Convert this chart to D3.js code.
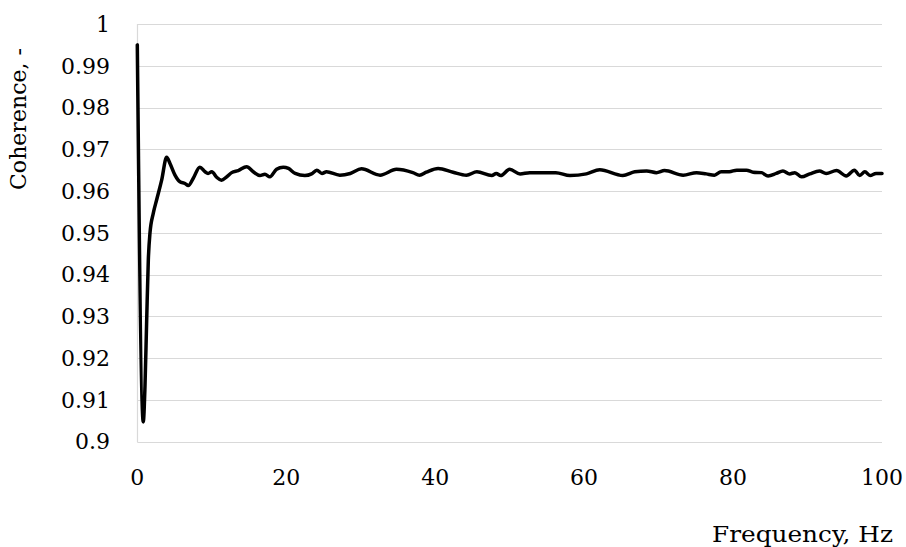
<!DOCTYPE html>
<html>
<head>
<meta charset="utf-8">
<script src="https://cdn.jsdelivr.net/npm/d3@7"></script>
<style>
  html, body { margin: 0; padding: 0; background: #ffffff; }
  svg { display: block; }
  text { font-family: "DejaVu Serif", serif; fill: #000; }
</style>
</head>
<body>
<svg id="chart" width="906" height="547"></svg>
<script>
// ---- data ----
const freq = [0, 0.8, 1.03, 1.26, 1.48, 1.7, 2.15, 2.6, 3.27, 3.94, 4.39, 5.06, 5.73, 6.4, 6.85, 7.5, 8.4, 9.1, 9.5, 10.0,
  10.66, 11.3, 12.0, 12.67, 13.56, 14.68, 15.57, 16.47, 17.14, 17.8, 18.7, 19.6, 20.3, 21.2, 22.5, 23.4, 24.1, 24.8, 25.4,
  27.2, 28.6, 30.1, 32.6, 34.8, 37.0, 37.9, 38.8, 40.4, 42.4, 44.2, 45.6, 47.6, 48.2, 48.8, 50.0, 51.4, 52.7, 56.2, 58.1,
  60.3, 62.1, 65.2, 66.8, 68.4, 69.7, 70.8, 73.3, 75.1, 76.4, 77.5, 78.4, 79.5, 80.5, 81.8, 82.7, 83.8, 84.7, 85.8, 86.7,
  87.6, 88.3, 89.2, 90.3, 91.6, 92.5, 93.9, 95.2, 96.3, 97.0, 97.7, 98.4, 99.2, 100];
const coherence = [0.9950, 0.9047, 0.9131, 0.9291, 0.9435, 0.9499, 0.9547, 0.9579, 0.9626, 0.9681, 0.9666, 0.9638, 0.9622,
  0.9618, 0.9613, 0.9630, 0.9657, 0.9646, 0.9642, 0.9646, 0.9633, 0.9626, 0.9634, 0.9644, 0.9649, 0.9658, 0.9646, 0.9637,
  0.9640, 0.9634, 0.9652, 0.9657, 0.9654, 0.9642, 0.9637, 0.9641, 0.9650, 0.9642, 0.9646, 0.9638, 0.9642, 0.9653, 0.9638,
  0.9652, 0.9644, 0.9638, 0.9645, 0.9654, 0.9645, 0.9638, 0.9646, 0.9637, 0.9642, 0.9637, 0.9652, 0.9641, 0.9644, 0.9644,
  0.9637, 0.9641, 0.9651, 0.9637, 0.9646, 0.9648, 0.9644, 0.9649, 0.9638, 0.9644, 0.9641, 0.9638, 0.9646, 0.9646, 0.9650,
  0.9650, 0.9645, 0.9644, 0.9636, 0.9642, 0.9648, 0.9641, 0.9644, 0.9634, 0.9641, 0.9648, 0.9642, 0.9649, 0.9636, 0.9650,
  0.9637, 0.9646, 0.9637, 0.9642, 0.9642];
const xTicks = [0, 20, 40, 60, 80, 100];
const yTicks = [0.9, 0.91, 0.92, 0.93, 0.94, 0.95, 0.96, 0.97, 0.98, 0.99, 1];
const yTickLabels = ["0.9", "0.91", "0.92", "0.93", "0.94", "0.95", "0.96", "0.97", "0.98", "0.99", "1"];
const xTitle = "Frequency, Hz";
const yTitle = "Coherence, -";

// ---- layout ----
const svg = d3.select("#chart");
const pLeft = 137.3, pRight = 882, pTop = 24, pBottom = 441.5;
const x = d3.scaleLinear().domain([0, 100]).range([pLeft, pRight]);
const y = d3.scaleLinear().domain([0.9, 1]).range([pBottom, pTop]);

// gridlines
svg.append("g").selectAll("line").data(yTicks).join("line")
  .attr("x1", pLeft).attr("x2", pRight)
  .attr("y1", d => Math.round(y(d)) + 0.5).attr("y2", d => Math.round(y(d)) + 0.5)
  .attr("stroke", "#d9d9d9").attr("stroke-width", 1.2);

// left axis line
svg.append("line")
  .attr("x1", Math.round(pLeft) + 0.5).attr("x2", Math.round(pLeft) + 0.5)
  .attr("y1", pTop).attr("y2", pBottom + 0.5)
  .attr("stroke", "#d9d9d9").attr("stroke-width", 1.2);

// y tick labels
svg.append("g").selectAll("text").data(yTicks).join("text")
  .attr("x", 110).attr("y", d => y(d))
  .attr("dy", "0.36em")
  .attr("text-anchor", "end")
  .style("font-size", "22px")
  .text((d, i) => yTickLabels[i]);

// x tick labels
svg.append("g").selectAll("text").data(xTicks).join("text")
  .attr("x", d => x(d)).attr("y", 485)
  .attr("text-anchor", "middle")
  .style("font-size", "22px")
  .text(d => d);

// axis titles
svg.append("text")
  .attr("x", 893).attr("y", 542)
  .attr("text-anchor", "end")
  .style("font-size", "22px")
  .attr("textLength", 181).attr("lengthAdjust", "spacingAndGlyphs")
  .text(xTitle);

svg.append("text")
  .attr("transform", "translate(26,119) rotate(-90)")
  .attr("text-anchor", "middle")
  .style("font-size", "22px")
  .attr("textLength", 142).attr("lengthAdjust", "spacingAndGlyphs")
  .text(yTitle);

// data line
const pts = freq.map((f, i) => [f, coherence[i]]);
const line = d3.line().x(d => x(d[0])).y(d => y(d[1])).curve(d3.curveMonotoneX);
svg.append("path")
  .datum(pts)
  .attr("d", line)
  .attr("fill", "none")
  .attr("stroke", "#000")
  .attr("stroke-width", 3.5)
  .attr("stroke-linejoin", "round")
  .attr("stroke-linecap", "round");
</script>
</body>
</html>
